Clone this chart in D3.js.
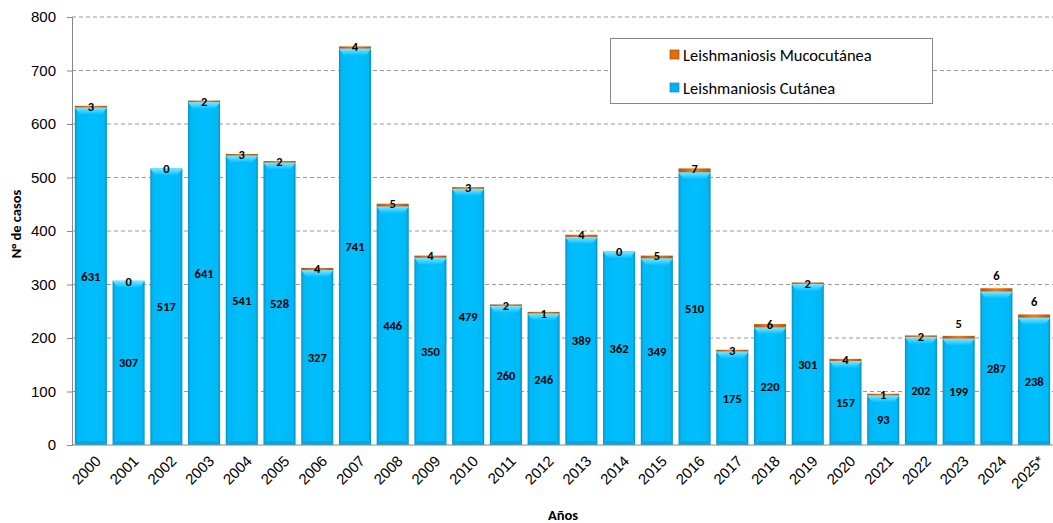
<!DOCTYPE html>
<html><head><meta charset="utf-8">
<script src="https://cdn.jsdelivr.net/npm/d3@7"></script>
<style>body{margin:0;background:#fff;} svg{display:block;font-family:Carlito,Calibri,Lato,"Open Sans",sans-serif;}</style>
</head><body><svg id="c" width="1053" height="523"></svg>
<script>
const years = ["2000","2001","2002","2003","2004","2005","2006","2007","2008","2009","2010","2011","2012","2013","2014","2015","2016","2017","2018","2019","2020","2021","2022","2023","2024","2025*"];
const cutanea = [631,307,517,641,541,528,327,741,446,350,479,260,246,389,362,349,510,175,220,301,157,93,202,199,287,238];
const mucocutanea = [3,0,0,2,3,2,4,4,5,4,3,2,1,4,0,5,7,3,6,2,4,1,2,5,6,6];
const yTicks = [0,100,200,300,400,500,600,700,800];
const seriesNames = ["Leishmaniosis Mucocutánea","Leishmaniosis Cutánea"];

const svg = d3.select("#c");
const m = {l:72, r:0, t:17, b:78};
const W = 1053, H = 523;
const x = d3.scaleBand().domain(years).range([m.l, W - m.r]).paddingInner(0.15).paddingOuter(0.075);
const y = d3.scaleLinear().domain([0,800]).range([H - m.b, m.t]);

const defs = svg.append("defs");
const g1 = defs.append("linearGradient").attr("id","gc").attr("x1",0).attr("x2",1).attr("y1",0).attr("y2",0);
g1.append("stop").attr("offset","0").attr("stop-color","#0a8fc0");
g1.append("stop").attr("offset","0.08").attr("stop-color","#00b8f5");
g1.append("stop").attr("offset","0.5").attr("stop-color","#00bfff");
g1.append("stop").attr("offset","0.92").attr("stop-color","#00b8f5");
g1.append("stop").attr("offset","1").attr("stop-color","#0a8fc0");
const g2 = defs.append("linearGradient").attr("id","gm").attr("x1",0).attr("x2",1).attr("y1",0).attr("y2",0);
g2.append("stop").attr("offset","0").attr("stop-color","#b5520a");
g2.append("stop").attr("offset","0.5").attr("stop-color","#f07c1a");
g2.append("stop").attr("offset","1").attr("stop-color","#b5520a");
const g3 = defs.append("linearGradient").attr("id","gt").attr("x1",0).attr("x2",0).attr("y1",0).attr("y2",1);
g3.append("stop").attr("offset","0").attr("stop-color","#7fe6ff");
g3.append("stop").attr("offset","1").attr("stop-color","#00bfff");

// gridlines
svg.append("g").selectAll("line").data(yTicks.filter(d=>d>0)).join("line")
  .attr("x1", m.l).attr("x2", W).attr("y1", d=>y(d)).attr("y2", d=>y(d))
  .attr("stroke","#999").attr("stroke-dasharray","4,3").attr("stroke-width",1);

// y axis
const ya = svg.append("g").attr("transform",`translate(${m.l},0)`)
  .call(d3.axisLeft(y).tickValues(yTicks).tickSize(5).tickPadding(11));
ya.select(".domain").attr("stroke","#888");
ya.selectAll(".tick line").attr("stroke","#888");
ya.selectAll("text").attr("font-size",15).attr("fill","#000");

// bars
const bw = x.bandwidth();
const gb = svg.append("g");
years.forEach((yr,i)=>{
  const x0 = x(yr);
  const yc = y(cutanea[i]);
  gb.append("rect").attr("x",x0).attr("y",yc).attr("width",bw).attr("height",y(0)-yc).attr("fill","url(#gc)");
  gb.append("path").attr("d",`M${x0},${yc}L${x0+bw},${yc}L${x0+bw-5},${yc+7}L${x0+5},${yc+7}Z`).attr("fill","url(#gt)");
  gb.append("path").attr("d",`M${x0},${y(0)}L${x0+bw},${y(0)}L${x0+bw-4},${y(0)-4}L${x0+4},${y(0)-4}Z`).attr("fill","#0aa5dd");
  const ym = y(cutanea[i]+mucocutanea[i]);
  const hm = Math.max(yc-ym, 1.5);
  if (mucocutanea[i] > 0) gb.append("rect").attr("x",x0).attr("y",yc-hm).attr("width",bw).attr("height",hm).attr("fill","url(#gm)");
});

// x axis
const xa = svg.append("g").attr("transform",`translate(0,${y(0)})`)
  .call(d3.axisBottom(x).tickSize(0).tickPadding(0));
xa.select(".domain").attr("stroke","#888").attr("d",`M${m.l},0H${W}`);
xa.selectAll("text").attr("font-size",15).attr("fill","#000")
  .attr("text-anchor","end").attr("y",0).attr("dy",0)
  .attr("transform","translate(11,17) rotate(-45)");

// labels cutanea
svg.append("g").selectAll("text").data(years).join("text")
  .attr("x", d=>x(d)+bw/2).attr("y",(d,i)=>y(cutanea[i]/2))
  .attr("text-anchor","middle").attr("dy","0.35em").attr("font-size",12.5).attr("font-weight","bold")
  .text((d,i)=>cutanea[i]);
// labels mucocutanea
svg.append("g").selectAll("text").data(years).join("text")
  .attr("x", d=>x(d)+bw/2)
  .attr("y",(d,i)=> i>=23 ? y(cutanea[i]+mucocutanea[i]) - 12 : y(cutanea[i]+mucocutanea[i]) + 1)
  .attr("text-anchor","middle").attr("dy","0.3em").attr("font-size",12.5).attr("font-weight","bold")
  .text((d,i)=>mucocutanea[i]);

// axis titles
svg.append("text").attr("transform",`translate(21,224) rotate(-90)`)
  .attr("text-anchor","middle").attr("font-size",14.5).attr("font-weight","bold").text("N° de casos");
svg.append("text").attr("x",563).attr("y",520).attr("text-anchor","middle")
  .attr("font-size",14.5).attr("font-weight","bold").text("Años");

// legend
const lg = svg.append("g");
lg.append("rect").attr("x",610.5).attr("y",38.5).attr("width",322).attr("height",65).attr("fill","#fff").attr("stroke","#888");
seriesNames.forEach((n,i)=>{
  const yy = 55 + i*33;
  lg.append("rect").attr("x",670).attr("y",yy-5).attr("width",9).attr("height",9).attr("fill", i===0?"#e46c0a":"#00b0f0").attr("stroke",i===0?"#a04a05":"#0a8fc0").attr("stroke-width",0.7);
  lg.append("text").attr("x",683).attr("y",yy).attr("dy","0.35em").attr("font-size",16.5).text(n);
});
</script></body></html>
